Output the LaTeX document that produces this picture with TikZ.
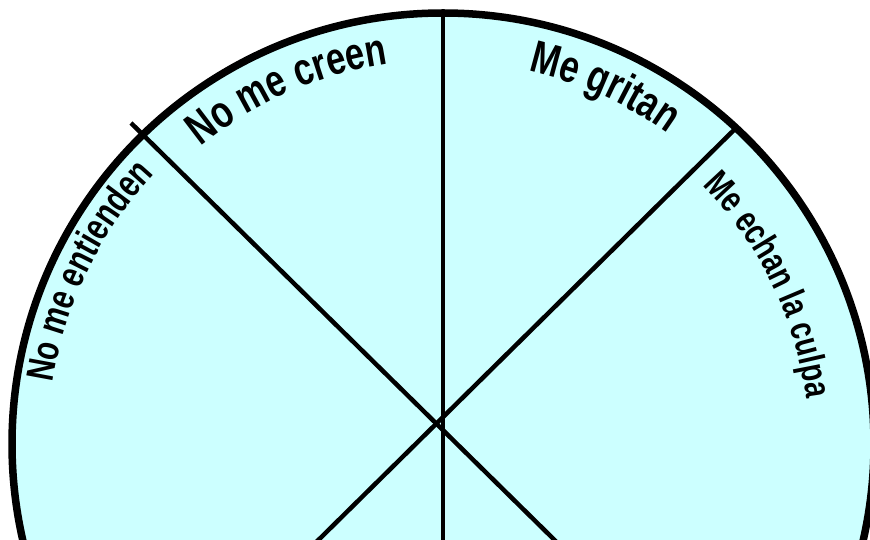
\documentclass[tikz,border=0pt]{standalone}
\usepackage{fontspec}
\usetikzlibrary{decorations.text}
\newfontfamily\lab[FakeStretch=0.76]{Liberation Sans}
\newcommand\labBig{\lab\bfseries\fontsize{45.5}{45.5}\selectfont}
\newcommand\labMid{\lab\bfseries\fontsize{38.5}{38.5}\selectfont}
\newcommand\labSmall{\lab\bfseries\fontsize{37}{37}\selectfont}
\definecolor{wheelfill}{RGB}{204,255,255}
\tikzset{
  rim/.style={draw=black, line width=7.5pt, fill=wheelfill},
  spoke/.style={draw=black, line width=4.5pt},
  arclabel/.style={decorate, decoration={text along path, text align=center, text color=black}}
}
\begin{document}
\begin{tikzpicture}[x=1pt,y=1pt]
\useasboundingbox (0,0) rectangle (870,540);
\clip (0,0) rectangle (870,540);
\coordinate (c) at (443,96);
\coordinate (top) at (443,527);
\coordinate (vbot) at (443,-30);
\coordinate (d1a) at (131,417);
\coordinate (d1b) at (585,-30);
\coordinate (d2a) at (737,413);
\coordinate (d2b) at (288,-30);
\path[rim] (c) circle[radius=431];
\draw[spoke] (top) -- (vbot);
\draw[spoke] (d1a) -- (d1b);
\draw[spoke] (d2a) -- (d2b);
% labels
\path[arclabel, decoration={text={|\labBig|No me creen}}]
  (c) ++(153.7:384) arc[start angle=153.7, end angle=73.7, radius=384];
\path[arclabel, decoration={text={|\labBig|Me gritan}}]
  (c) ++(105.6:383) arc[start angle=105.6, end angle=25.6, radius=383];
\path[arclabel, decoration={text={|\labSmall|Me echan la culpa}}]
  (c) ++(71:366) arc[start angle=71, end angle=-19, radius=366];
\path[arclabel, decoration={text={|\labMid|No me entienden}}]
  (c) ++(199:395) arc[start angle=199, end angle=109, radius=395];
\end{tikzpicture}
\end{document}
